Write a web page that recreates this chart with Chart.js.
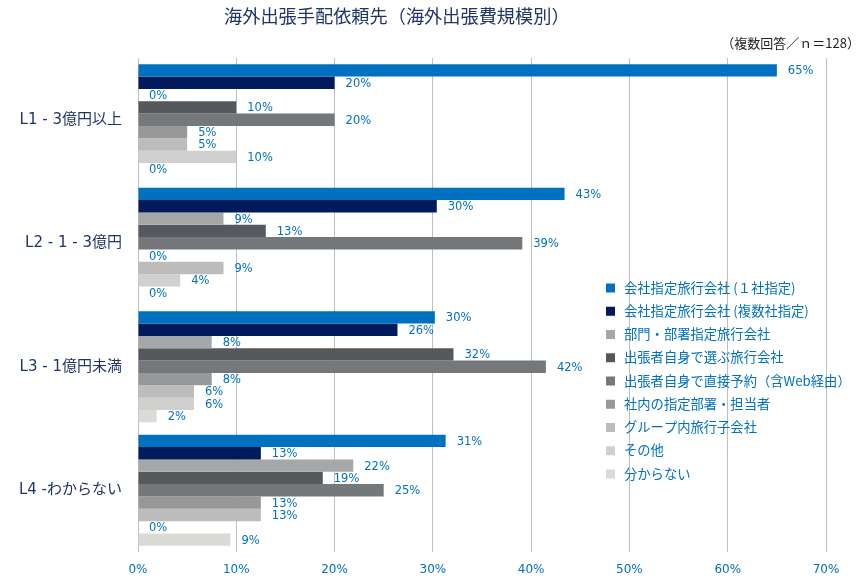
<!DOCTYPE html>
<html>
<head>
<meta charset="utf-8">
<script src="https://cdn.jsdelivr.net/npm/chart.js@4/dist/chart.umd.min.js"></script>
<style>
html,body{margin:0;padding:0;background:#fff;}
#wrap{width:865px;height:588px;position:relative;}
</style>
</head>
<body>
<div id="wrap"><canvas id="c" width="865" height="588"></canvas></div>
<script>
const titleText = "海外出張手配依頼先（海外出張費規模別）";
const noteText = "（複数回答／ｎ＝128）";
const categories = ["L1 - 3億円以上", "L2 - 1 - 3億円", "L3 - 1億円未満", "L4 -わからない"];
const seriesNames = [
  "会社指定旅行会社 (１社指定)",
  "会社指定旅行会社 (複数社指定)",
  "部門・部署指定旅行会社",
  "出張者自身で選ぶ旅行会社",
  "出張者自身で直接予約（含Web経由）",
  "社内の指定部署・担当者",
  "グループ内旅行子会社",
  "その他",
  "分からない"
];
const seriesColors = ["#0070C0", "#001A5B", "#A6A7A9", "#55585D", "#75787B", "#97989A", "#BBBCBB", "#D0D0CE", "#DADAD6"];
// percentages per series, in category order L1..L4
const s1 = [65, 43.4, 30.2, 31.3];
const s2 = [20, 30.4, 26.4, 12.5];
const s3 = [0, 8.7, 7.5, 21.9];
const s4 = [10, 13.0, 32.1, 18.8];
const s5 = [20, 39.1, 41.5, 25];
const s6 = [5, 0, 7.5, 12.5];
const s7 = [5, 8.7, 5.7, 12.5];
const s8 = [10, 4.3, 5.7, 0];
const s9 = [0, 0, 1.9, 9.4];
const seriesValues = [s1, s2, s3, s4, s5, s6, s7, s8, s9];
const xTicks = [0, 10, 20, 30, 40, 50, 60, 70];

const LABEL_FONT = '"DejaVu Sans", "Noto Sans CJK JP", sans-serif';
const CJK_FONT = '"Noto Sans CJK JP", "DejaVu Sans", sans-serif';

const datasets = seriesNames.map((n, i) => ({
  label: n,
  data: seriesValues[i],
  backgroundColor: seriesColors[i],
  borderWidth: 0,
  categoryPercentage: 0.9,
  barPercentage: 1.0
}));

const overlayPlugin = {
  id: 'overlay',
  afterDatasetsDraw(chart) {
    const ctx = chart.ctx;
    ctx.save();
    // data labels
    ctx.font = '11.5px ' + LABEL_FONT;
    ctx.fillStyle = '#0070C0';
    ctx.textAlign = 'left';
    ctx.textBaseline = 'middle';
    chart.data.datasets.forEach((ds, di) => {
      const meta = chart.getDatasetMeta(di);
      meta.data.forEach((bar, i) => {
        const v = ds.data[i];
        ctx.fillText(Math.round(v) + '%', bar.x + 11, bar.y + 1);
      });
    });
    // legend
    const lx = 606, ly0 = 287.5, step = 23.25;
    ctx.font = '13.3px ' + CJK_FONT;
    chart.data.datasets.forEach((ds, di) => {
      const y = ly0 + di * step;
      ctx.fillStyle = ds.backgroundColor;
      ctx.fillRect(lx, y - 4, 9, 9);
      ctx.fillStyle = '#0070C0';
      ctx.fillText(ds.label, lx + 18, y);
    });
    // title and note
    ctx.fillStyle = '#1F3468';
    ctx.font = '18.2px ' + CJK_FONT;
    ctx.textAlign = 'left';
    ctx.fillText(titleText, 224, 16);
    ctx.fillStyle = '#222222';
    ctx.font = '13px ' + CJK_FONT;
    ctx.textAlign = 'right';
    ctx.fillText(noteText, 860, 43);
    ctx.restore();
  }
};

new Chart(document.getElementById('c'), {
  type: 'bar',
  data: { labels: categories, datasets },
  options: {
    indexAxis: 'y',
    responsive: false,
    animation: false,
    layout: { padding: { top: 58, right: 39, bottom: 0, left: 0 } },
    plugins: { legend: { display: false }, title: { display: false }, tooltip: { enabled: false } },
    scales: {
      x: {
        min: 0,
        max: 70,
        afterBuildTicks(scale) { scale.ticks = xTicks.map(v => ({ value: v })); },
        afterFit(scale) { scale.height = 36; },
        grid: { color: '#BFBFBF', lineWidth: 1, drawTicks: false },
        border: { display: false },
        ticks: {
          padding: 11,
          color: '#0070C0',
          font: { family: LABEL_FONT, size: 12 },
          callback: v => v + '%'
        }
      },
      y: {
        afterFit(scale) { scale.width = 138; },
        grid: { display: false, drawTicks: false },
        border: { display: false },
        ticks: {
          padding: 16,
          color: '#1F3468',
          font: { family: LABEL_FONT, size: 15 }
        }
      }
    }
  },
  plugins: [overlayPlugin]
});
</script>
</body>
</html>
